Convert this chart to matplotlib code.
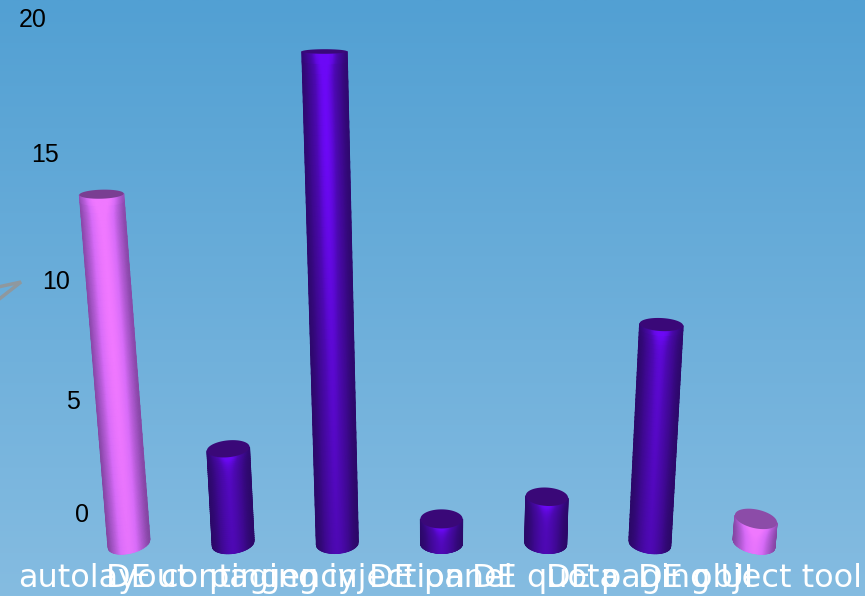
import numpy as np
import matplotlib
matplotlib.use("Agg")
import matplotlib.pyplot as plt
from matplotlib.colors import LinearSegmentedColormap, to_rgb
from matplotlib.patches import Polygon

# ---- data ----
categories = ["autolayout", "DE contingency", "paging injection", "DE panel",
              "DE quota", "DE paging UI", "DE object tool"]
values = [14.2, 3.85, 20, 1, 1.9, 8.9, 1]
highlighted = [True, False, False, False, False, False, True]
tick_labels = ["0", "5", "10", "15", "20"]

# ---- layout (pixels of the 865x596 canvas) ----
W, H = 865, 596
X0, DX = 129.0, 104.17      # first base, spacing
Y0, DY = 543.5, 24.6        # baseline, px per unit
VANISH = 441.0
tick_px = [(82, 515), (72.5, 402), (56, 282), (45, 155), (33, 20)]
label_px = [(18, "left"), (231, "center"), (337, "center"), (441, "center"),
            (546, "center"), (650, "center"), (862, "right")]

fig = plt.figure(figsize=(W / 100, H / 100), dpi=100)
ax = fig.add_axes([0, 0, 1, 1])
ax.set_xlim(-X0 / DX, (W - X0) / DX)
ax.set_ylim(-(H - Y0) / DY, Y0 / DY)
ax.axis("off")

# background
c_top, c_bot = np.array(to_rgb("#52A0D3")), np.array(to_rgb("#85BCE1"))
t = np.linspace(0, 1, 300)[:, None, None]
ax.imshow(c_top + (c_bot - c_top) * t, extent=(0, 1, 0, 1), transform=ax.transAxes,
          aspect="auto", zorder=0, interpolation="bilinear")
ax.set_xlim(-X0 / DX, (W - X0) / DX)
ax.set_ylim(-(H - Y0) / DY, Y0 / DY)


def fig_xy(x, y):
    return x / W, 1 - y / H


# grey wall fragment at the left edge
frag = [fig_xy(-2, 287), fig_xy(21, 282), fig_xy(-2, 300)]
ax.plot(*zip(*frag), transform=fig.transFigure, color="#8F989E", lw=2.5, zorder=1,
        solid_joinstyle="miter", clip_on=True)

purple = LinearSegmentedColormap.from_list("p", ["#240858", "#3E0890", "#4E08B4", "#6C08F6"])
pink = LinearSegmentedColormap.from_list("q", ["#5E3478", "#A254C4", "#D86CF8", "#F078FF"])


def ry_at(py):
    return 1.5 + py * 0.0155


def draw_cylinder(i, v, hi):
    base_px = X0 + DX * i
    off = base_px - VANISH
    lean = off * 0.0062
    rx0 = 21.0
    k = 0.004
    n_u, n_v = 61, 50
    u = np.linspace(-1, 1, n_u)
    vs = np.linspace(0, v, n_v)
    U, V = np.meshgrid(u, vs)
    cx = i + lean * V / DX
    rx = rx0 * (1 + k * V) / DX
    py = Y0 - V * DY
    ry = ry_at(py)
    tilt = off / 313 * 0.4 * (py / Y0)
    front = np.sqrt(np.clip(1 - U ** 2, 0, 1))
    Xm = cx + U * rx
    Ym = V - (ry * front + U * tilt * ry) / DY

    horiz = np.exp(-(U / (0.72 if hi else 0.62)) ** 2) * 0.92 + 0.08
    d = (v - V) * DY                       # px below top edge
    fade = 0.66 + 0.34 * np.clip((V * DY) / 400, 0, 1)
    if hi:
        fade = 0.86 + 0.14 * np.clip((V * DY) / 200, 0, 1)
    rim = 0.38 * np.exp(-d / 7.0)
    S = np.clip(horiz * (fade + rim), 0, 1)
    ax.pcolormesh(Xm, Ym, S, cmap=pink if hi else purple, vmin=0, vmax=1,
                  shading="gouraud", zorder=3)
    # top cap
    th = np.linspace(0, 2 * np.pi, 90)
    cx_t = i + lean * v / DX
    rx_t = rx0 * (1 + k * v) / DX
    py_t = Y0 - v * DY
    ry_t = ry_at(py_t)
    tilt_t = off / 313 * 0.4 * (py_t / Y0)
    cap_x = cx_t + np.cos(th) * rx_t
    cap_y = v - (np.sin(th) * ry_t + np.cos(th) * tilt_t * ry_t) / DY
    col = ("#8C4CA8" if v < 5 else "#7A3E92") if hi else "#3A0878"
    ax.add_patch(Polygon(np.c_[cap_x, cap_y], closed=True, fc=col, ec="none", zorder=4))


for i, (val, hi) in enumerate(zip(values, highlighted)):
    draw_cylinder(i, val, hi)

# value labels
for lab, (x, y) in zip(tick_labels, tick_px):
    fx, fy = fig_xy(x, y)
    ax.text(fx, fy, lab, transform=fig.transFigure, family="Liberation Sans", fontsize=18,
            color="black", ha="center", va="center", zorder=5)

# category labels
for lab, (x, ha) in zip(categories, label_px):
    fx, fy = fig_xy(x, 587)
    ax.text(fx, fy, lab, transform=fig.transFigure, family="DejaVu Sans", fontsize=23,
            color="white", ha=ha, va="baseline", zorder=6)

fig.savefig("out.png", dpi=100)
